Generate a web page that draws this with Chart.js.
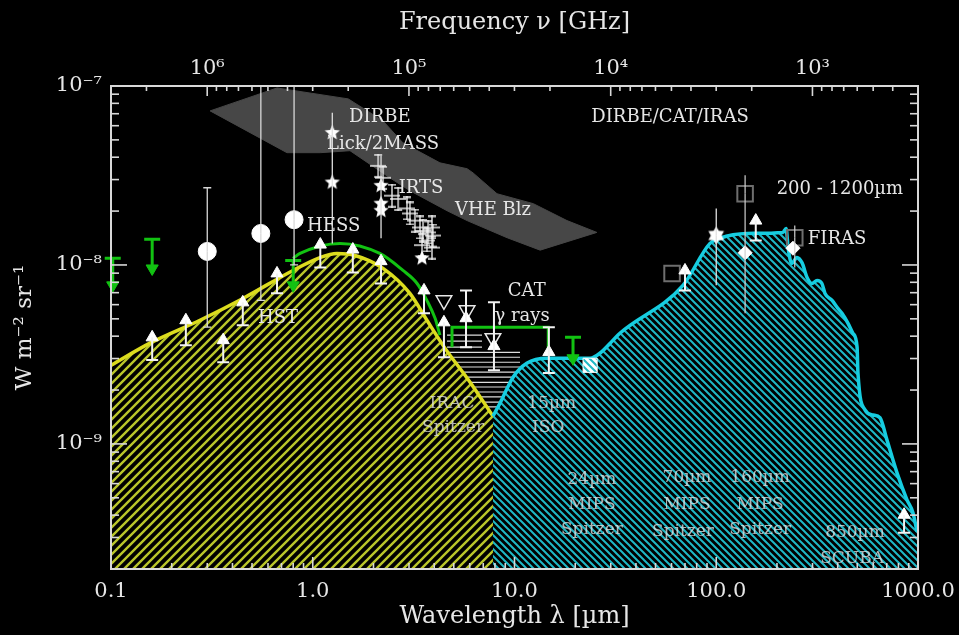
<!DOCTYPE html>
<html>
<head>
<meta charset="utf-8">
<script src="https://cdn.jsdelivr.net/npm/chart.js@4.4.1/dist/chart.umd.min.js"></script>
<style>
  html, body { margin: 0; padding: 0; background: #000; }
  canvas { display: block; }
</style>
</head>
<body>
<canvas id="sed" width="959" height="635"></canvas>
<script>
// ---- constants -------------------------------------------------------------
const C_UM_GHZ = 299792.458;            // nu[GHz] = C_UM_GHZ / lambda[um]

// ---- optical / near-IR background model (lambda in um, I in W m^-2 sr^-1) --
const cobLambda = [0.1, 0.156, 0.276, 0.451, 0.798, 1.086, 1.318, 1.62, 2.23, 3.03, 3.68, 4.52, 6.01, 7.82];
const cobFlux   = [2.75e-9, 3.66e-9, 4.91e-9, 6.50e-9, 9.32e-9, 1.10e-8, 1.16e-8, 1.13e-8, 9.57e-9, 6.94e-9, 4.91e-9, 3.43e-9, 2.22e-9, 1.43e-9];

// ---- far-IR background model --------------------------------------------------
const cibLambda = [7.82, 8.48, 9.84, 11.5, 14.5, 23.7, 26.5, 30.8, 33.3, 68.4, 93.1, 104, 142, 214, 222, 227, 237, 251, 266, 282, 298, 316, 334, 346, 375, 397, 420, 450, 476, 499, 504, 546, 598, 648, 702, 787, 882, 944, 989];
const cibFlux   = [1.43e-9, 1.69e-9, 2.36e-9, 2.82e-9, 3.01e-9, 3.01e-9, 3.21e-9, 3.80e-9, 4.15e-9, 7.69e-9, 1.32e-8, 1.41e-8, 1.50e-8, 1.52e-8, 1.60e-8, 1.25e-8, 1.02e-8, 1.10e-8, 1.03e-8, 8.52e-9, 7.88e-9, 8.20e-9, 7.88e-9, 6.93e-9, 6.34e-9, 5.80e-9, 5.37e-9, 4.72e-9, 4.15e-9, 3.47e-9, 2.49e-9, 1.55e-9, 1.45e-9, 1.40e-9, 1.05e-9, 6.89e-10, 4.87e-10, 4.13e-10, 3.24e-10];

// ---- gamma-ray derived limits (green) -----------------------------------------
const gammaLambda = [0.798, 0.865, 1.365, 2.15, 2.80, 3.29, 3.68, 4.04, 4.27];
const gammaFlux   = [1.087e-8, 1.16e-8, 1.32e-8, 1.16e-8, 9.32e-9, 7.88e-9, 6.34e-9, 5.03e-9, 4.05e-9];
const catLambda   = [4.90, 4.90, 14.7, 14.7];
const catFlux     = [3.47e-9, 4.49e-9, 4.49e-9, 3.34e-9];
const ulLambda    = [0.102, 0.16, 0.80, 19.5];
const ulHead      = [7.69e-9, 9.56e-9, 7.69e-9, 3.01e-9];
const ulBar       = [1.09e-8, 1.39e-8, 1.06e-8, 3.94e-9];

// ---- VHE blazar band (closed outline) --------------------------------------------
const blzLambda = [0.310, 0.665, 1.50, 2.23, 2.80, 4.27, 5.82, 6.23, 8.19, 12.4, 18.2, 25.6, 13.4, 9.19, 5.82, 4.63, 3.03, 2.41, 1.53, 1.09, 0.745, 0.310];
const blzFlux   = [7.26e-8, 9.75e-8, 8.47e-8, 6.38e-8, 4.81e-8, 3.72e-8, 3.45e-8, 3.27e-8, 2.50e-8, 2.20e-8, 1.77e-8, 1.52e-8, 1.21e-8, 1.42e-8, 1.77e-8, 2.01e-8, 2.60e-8, 3.07e-8, 4.35e-8, 4.24e-8, 4.24e-8, 7.26e-8];

// ---- IRAC horizontal error bars -------------------------------------------------
const iracFlux = [4.05e-9, 3.75e-9, 3.47e-9, 3.25e-9, 3.05e-9, 2.86e-9, 2.69e-9, 2.52e-9, 2.36e-9, 2.21e-9, 2.08e-9, 1.95e-9, 1.83e-9, 1.71e-9, 1.61e-9];
const iracLo   = [4.63, 4.63, 4.63, 4.63, 4.63, 4.63, 4.63, 4.63, 4.63, 4.63, 4.63, 4.63, 4.63, 4.63, 4.63];
const iracHi   = [6.90, 6.90, 6.90, 10.65, 10.65, 10.65, 10.65, 10.65, 10.65, 10.65, 10.65, 10.65, 10.65, 10.65, 10.65];

// ---- measurements ----------------------------------------------------------------
// lower limits (galaxy counts): arrow head, shaft end, optional upper cap
const limLambda = [0.16, 0.235, 0.36, 0.45, 0.665, 1.09, 1.58, 2.18, 3.56, 4.47, 5.75, 7.91, 14.8, 70, 157, 853];
const limFlux   = [3.94e-9, 4.91e-9, 3.80e-9, 6.18e-9, 8.97e-9, 1.30e-8, 1.22e-8, 1.05e-8, 7.21e-9, 4.78e-9, 5.04e-9, 3.52e-9, 3.26e-9, 9.32e-9, 1.77e-8, 4.02e-10];
const limLow    = [2.94e-9, 3.56e-9, 2.86e-9, 4.60e-9, 6.94e-9, 9.68e-9, 9.08e-9, 7.89e-9, 5.37e-9, 3.05e-9, 3.47e-9, 2.58e-9, 2.49e-9, 7.21e-9, 1.37e-8, 3.19e-10];
const limHigh   = [null, null, null, null, null, null, null, null, null, null, 7.21e-9, 6.18e-9, 4.49e-9, null, null, null];

// direct optical measurements
const dotLambda = [0.30, 0.553, 0.808];
const dotFlux   = [1.19e-8, 1.50e-8, 1.79e-8];
const dotHigh   = [2.70e-8, 1.2e-7, 1.2e-7];
const dotLow    = [4.49e-9, 6.34e-9, 1.0e-8];

// DIRBE / 2MASS near-IR detections
const starLambda = [1.25, 1.25, 2.18, 2.18, 2.18, 3.48];
const starFlux   = [5.47e-8, 2.89e-8, 2.77e-8, 2.20e-8, 2.01e-8, 1.09e-8];
const starHigh   = [7.08e-8, null, 4.07e-8, null, null, null];
const starLow    = [1.32e-8, null, 1.41e-8, null, null, null];

// DIRBE far-IR detection
const hexLambda = [100];
const hexFlux   = [1.46e-8];
const hexHigh   = [2.07e-8];
const hexLow    = [7.69e-9];

// IRTS spectrum
const irtsLambda = [2.11, 2.23, 2.47, 2.65, 2.93, 3.03, 3.21, 3.40, 3.52, 3.73, 3.90, 3.94, 3.68, 3.48, 3.90];
const irtsFlux   = [3.58e-8, 3.07e-8, 2.44e-8, 2.34e-8, 2.07e-8, 1.94e-8, 1.77e-8, 1.62e-8, 1.55e-8, 1.52e-8, 1.62e-8, 1.46e-8, 1.37e-8, 1.29e-8, 1.25e-8];

// far-IR open squares, diamonds, open triangles, 24um point
const sqLambda = [60.4, 139, 245];
const sqFlux   = [8.97e-9, 2.50e-8, 1.42e-8];
const sqHigh   = [null, 3.17e-8, 1.66e-8];
const sqLow    = [null, 5.37e-9, 9.68e-9];
const dmLambda = [139, 240];
const dmFlux   = [1.17e-8, 1.24e-8];
const triLambda = [4.47, 5.82, 7.82];
const triFlux   = [6.34e-9, 5.58e-9, 3.90e-9];
const mipsLambda = [23.7];
const mipsFlux   = [2.75e-9];

// ---- annotations ---------------------------------------------------------------------
const noteText   = ['DIRBE', 'Lick/2MASS', 'IRTS', 'VHE Blz', 'HESS', 'HST', 'DIRBE/CAT/IRAS', '200 - 1200µm', 'FIRAS', 'CAT', 'γ rays'];
const noteLambda = [2.15, 2.23, 3.44, 7.82, 1.27, 0.673, 59.0, 410, 397, 11.5, 10.9];
const noteFlux   = [6.64e-8, 4.75e-8, 2.67e-8, 2.01e-8, 1.64e-8, 5.04e-9, 6.64e-8, 2.64e-8, 1.39e-8, 7.12e-9, 5.17e-9];
const instText   = ['IRAC', 'Spitzer', '15µm', 'ISO', '24µm', 'MIPS', 'Spitzer', '70µm', 'MIPS', 'Spitzer', '160µm', 'MIPS', 'Spitzer', '850µm', 'SCUBA'];
const instLambda = [4.90, 4.96, 15.3, 14.7, 24.2, 24.2, 24.2, 71.6, 71.6, 68.4, 165, 165, 165, 487, 471];
const instFlux   = [1.69e-9, 1.23e-9, 1.69e-9, 1.23e-9, 6.30e-10, 4.57e-10, 3.32e-10, 6.47e-10, 4.57e-10, 3.24e-10, 6.47e-10, 4.57e-10, 3.32e-10, 3.19e-10, 2.29e-10];

// ---- styling helpers ---------------------------------------------------------------
const textColor = '#e6e6e6';
const axisColor = '#d8d8d8';
const green = '#12c212';
Chart.defaults.font.family = "'DejaVu Serif', serif";

const pts = (xs, ys) => xs.map((x, i) => ({ x, y: ys[i] }));

function hatch(color, bg, size, rising, width) {
  const c = document.createElement('canvas');
  c.width = c.height = size;
  const g = c.getContext('2d');
  g.fillStyle = bg; g.fillRect(0, 0, size, size);
  g.strokeStyle = color; g.lineWidth = width; g.lineCap = 'square';
  g.beginPath();
  if (rising) {
    g.moveTo(-2, size + 2); g.lineTo(size + 2, -2);
    g.moveTo(-2, 2); g.lineTo(2, -2);
    g.moveTo(size - 2, size + 2); g.lineTo(size + 2, size - 2);
  } else {
    g.moveTo(-2, -2); g.lineTo(size + 2, size + 2);
    g.moveTo(size - 2, -2); g.lineTo(size + 2, 2);
    g.moveTo(-2, size - 2); g.lineTo(2, size + 2);
  }
  g.stroke();
  return g.createPattern(c, 'repeat');
}

function starShape(points, r, inner, color) {
  const s = Math.ceil(2 * r + 2);
  const c = document.createElement('canvas');
  c.width = c.height = s;
  const g = c.getContext('2d');
  g.fillStyle = color;
  g.beginPath();
  for (let i = 0; i < points * 2; i++) {
    const rr = i % 2 ? r * inner : r;
    const a = -Math.PI / 2 + i * Math.PI / points;
    g.lineTo(s / 2 + rr * Math.cos(a), s / 2 + rr * Math.sin(a));
  }
  g.closePath(); g.fill();
  return c;
}

function plusShape(w, h) {
  const c = document.createElement('canvas');
  c.width = w; c.height = h;
  const g = c.getContext('2d');
  g.strokeStyle = 'rgba(245,245,245,0.95)'; g.lineWidth = 1.4;
  g.beginPath();
  g.moveTo(0, h / 2); g.lineTo(w, h / 2);
  g.moveTo(w / 2, 0); g.lineTo(w / 2, h);
  g.moveTo(w / 2 - 4, 1); g.lineTo(w / 2 + 4, 1);
  g.moveTo(w / 2 - 4, h - 1); g.lineTo(w / 2 + 4, h - 1);
  g.stroke();
  return c;
}

const yellowHatch = hatch('#b9c52a', '#000', 9, true, 2.4);
const cyanHatch = hatch('#1fb8c6', '#000', 7, false, 2.0);
const mipsFill = hatch('#1fb8c6', '#ffffff', 7, false, 2.0);

// ---- axis ticks ------------------------------------------------------------------
function logTicks(lo, hi) {
  const out = [];
  for (let e = Math.floor(Math.log10(lo)) - 1; e <= Math.ceil(Math.log10(hi)); e++) {
    for (let k = 1; k <= 9; k++) {
      const v = k * Math.pow(10, e);
      if (v >= lo * (1 - 1e-9) && v <= hi * (1 + 1e-9)) out.push({ value: v });
    }
  }
  return out;
}
const isDecade = v => Math.abs(Math.log10(v) - Math.round(Math.log10(v))) < 1e-6;
const SUP = { '0': '⁰', '1': '¹', '2': '²', '3': '³', '4': '⁴', '5': '⁵', '6': '⁶', '7': '⁷', '8': '⁸', '9': '⁹', '-': '⁻' };
const powLabel = v => '10' + String(Math.round(Math.log10(v))).split('').map(ch => SUP[ch]).join('');

// keep the frame fixed: axis boxes of constant size, no extra label overhang
const fixHorizontal = h => s => { s.height = h; s.paddingLeft = 0; s.paddingRight = 0; };
const fixVertical = w => s => { s.width = w; s.paddingTop = 0; s.paddingBottom = 0; };

// ---- plugins -----------------------------------------------------------------------
const errorBars = {
  id: 'errorBars',
  afterDatasetsDraw(chart) {
    const { ctx, chartArea: a } = chart;
    const yS = chart.scales.y;
    chart.data.datasets.forEach((ds, di) => {
      if (!ds.errLow && !ds.errHigh) return;
      const meta = chart.getDatasetMeta(di);
      ctx.save();
      if (ds.errClip !== false) {
        ctx.beginPath(); ctx.rect(a.left, a.top, a.right - a.left, a.bottom - a.top); ctx.clip();
      }
      ctx.strokeStyle = ds.errColor || '#f0f0f0';
      ctx.lineWidth = ds.errWidth || 1.5;
      const cap = ds.errCap || 0;
      meta.data.forEach((el, i) => {
        const ends = [ds.errLow ? ds.errLow[i] : null, ds.errHigh ? ds.errHigh[i] : null];
        ends.forEach(v => {
          if (v == null) return;
          const py = yS.getPixelForValue(v);
          ctx.beginPath();
          ctx.moveTo(el.x, el.y); ctx.lineTo(el.x, py);
          if (cap) { ctx.moveTo(el.x - cap, py); ctx.lineTo(el.x + cap, py); }
          ctx.stroke();
        });
      });
      ctx.restore();
    });
  }
};

const frameTicks = {
  id: 'frameTicks',
  afterDatasetsDraw(chart) {
    const { ctx, chartArea: a } = chart;
    ctx.save();
    ctx.strokeStyle = axisColor;
    ctx.lineWidth = 1.6;
    const sides = { x: ['bottom', 12, 6], x2: ['top', 10, 5], y: ['left', 16, 8], y2: ['right', 16, 8] };
    Object.keys(sides).forEach(id => {
      const s = chart.scales[id];
      const [side, big, small] = sides[id];
      s.ticks.forEach(t => {
        const p = s.getPixelForValue(t.value);
        const len = isDecade(t.value) ? big : small;
        ctx.beginPath();
        if (side === 'bottom') { ctx.moveTo(p, a.bottom); ctx.lineTo(p, a.bottom - len); }
        if (side === 'top') { ctx.moveTo(p, a.top); ctx.lineTo(p, a.top + len); }
        if (side === 'left') { ctx.moveTo(a.left, p); ctx.lineTo(a.left + len, p); }
        if (side === 'right') { ctx.moveTo(a.right, p); ctx.lineTo(a.right - len, p); }
        ctx.stroke();
      });
    });
    ctx.lineWidth = 2;
    ctx.strokeRect(a.left, a.top, a.right - a.left, a.bottom - a.top);
    ctx.restore();
  }
};

const notes = {
  id: 'notes',
  afterDatasetsDraw(chart) {
    const { ctx } = chart;
    const xS = chart.scales.x, yS = chart.scales.y;
    ctx.save();
    ctx.font = "18px 'DejaVu Serif', serif";
    ctx.textAlign = 'center';
    ctx.textBaseline = 'middle';
    ctx.fillStyle = textColor;
    noteText.forEach((t, i) => ctx.fillText(t, xS.getPixelForValue(noteLambda[i]), yS.getPixelForValue(noteFlux[i])));
    ctx.font = "17px 'DejaVu Serif', serif";
    ctx.fillStyle = 'rgba(225,225,225,0.78)';
    instText.forEach((t, i) => ctx.fillText(t, xS.getPixelForValue(instLambda[i]), yS.getPixelForValue(instFlux[i])));
    ctx.restore();
  }
};

// ---- datasets ----------------------------------------------------------------------
const iracSegments = [];
iracFlux.forEach((f, i) => {
  iracSegments.push({ x: iracLo[i], y: f }, { x: iracHi[i], y: f }, { x: iracHi[i], y: null });
});

const datasets = [
  { type: 'line', data: pts(blzLambda, blzFlux), fill: 'shape', backgroundColor: '#474747',
    borderColor: '#474747', borderWidth: 1, pointRadius: 0, tension: 0, order: 100 },
  { type: 'line', data: iracSegments, borderColor: '#dcdcdc', borderWidth: 1.2, pointRadius: 0,
    spanGaps: false, tension: 0, order: 95 },
  { type: 'line', data: pts(cobLambda, cobFlux), fill: 'start', backgroundColor: yellowHatch,
    borderColor: '#dcdc1e', borderWidth: 3.5, pointRadius: 0, cubicInterpolationMode: 'monotone', order: 80 },
  { type: 'line', data: pts(cibLambda, cibFlux), fill: 'start', backgroundColor: cyanHatch,
    borderColor: '#16cde0', borderWidth: 3.5, pointRadius: 0, cubicInterpolationMode: 'monotone', order: 79 },
  { type: 'line', data: pts(gammaLambda, gammaFlux), fill: false, borderColor: green, borderWidth: 3,
    pointRadius: 0, cubicInterpolationMode: 'monotone', order: 60 },
  { type: 'line', data: pts(catLambda, catFlux), fill: false, borderColor: green, borderWidth: 3,
    pointRadius: 0, tension: 0, order: 59 },
  { data: pts(ulLambda, ulHead), pointStyle: 'triangle', rotation: 180, pointRadius: 7,
    pointBackgroundColor: green, pointBorderColor: green, borderWidth: 1,
    errHigh: ulBar, errCap: 8, errWidth: 3, errColor: green, errClip: false, clip: false, order: 30 },
  { data: pts(sqLambda, sqFlux), pointStyle: 'rect', pointRadius: 11, pointBackgroundColor: 'rgba(0,0,0,0)',
    pointBorderColor: '#6e6e6e', pointBorderWidth: 2, errHigh: sqHigh, errLow: sqLow, errWidth: 1.2,
    errColor: '#cfcfcf', clip: false, order: 20 },
  { data: pts(dotLambda, dotFlux), pointStyle: 'circle', pointRadius: 9, pointBackgroundColor: '#fff',
    pointBorderColor: '#fff', errHigh: dotHigh, errLow: dotLow, errCap: 4, errWidth: 1.3,
    errColor: '#d8d8d8', clip: false, order: 15 },
  { data: pts(irtsLambda, irtsFlux), pointStyle: plusShape(16, 24), pointRadius: 8, clip: false, order: 14 },
  { data: pts(starLambda, starFlux), pointStyle: starShape(5, 8, 0.45, '#fff'), pointRadius: 8,
    errHigh: starHigh, errLow: starLow, errWidth: 1.3, errColor: '#e0e0e0', clip: false, order: 13 },
  { data: pts(hexLambda, hexFlux), pointStyle: starShape(6, 9, 0.6, '#fff'), pointRadius: 9,
    errHigh: hexHigh, errLow: hexLow, errWidth: 1.3, errColor: '#e0e0e0', clip: false, order: 12 },
  { data: pts(dmLambda, dmFlux), pointStyle: 'rectRot', pointRadius: 7, pointBackgroundColor: '#fff',
    pointBorderColor: '#fff', clip: false, order: 11 },
  { data: pts(triLambda, triFlux), pointStyle: 'triangle', rotation: 180, pointRadius: 9,
    pointBackgroundColor: 'rgba(0,0,0,0)', pointBorderColor: '#e8e8e8', pointBorderWidth: 1.5, clip: false, order: 10 },
  { data: pts(mipsLambda, mipsFlux), pointStyle: 'rect', pointRadius: 10, pointBackgroundColor: mipsFill,
    pointBorderColor: '#fff', pointBorderWidth: 1, clip: false, order: 9 },
  { data: pts(limLambda, limFlux), pointStyle: 'triangle', pointRadius: 7, pointBackgroundColor: '#fff',
    pointBorderColor: '#fff', pointBorderWidth: 1, errLow: limLow, errHigh: limHigh, errCap: 6,
    errWidth: 2, errColor: '#f2f2f2', clip: false, order: 5 }
];

// ---- chart ---------------------------------------------------------------------------
new Chart(document.getElementById('sed'), {
  type: 'scatter',
  data: { datasets },
  plugins: [errorBars, notes, frameTicks],
  options: {
    responsive: false,
    animation: false,
    events: [],
    layout: { padding: 0 },
    plugins: { legend: { display: false }, tooltip: { enabled: false } },
    scales: {
      x: {
        type: 'logarithmic', position: 'bottom', min: 0.1, max: 1000,
        afterBuildTicks: s => { s.ticks = logTicks(0.1, 1000); },
        afterFit: fixHorizontal(66),
        grid: { display: false, drawTicks: false }, border: { display: false },
        ticks: { autoSkip: false, maxRotation: 0, minRotation: 0, padding: 10, color: textColor,
                 font: { size: 21 }, callback: v => isDecade(v) ? v.toFixed(1) : '' },
        title: { display: true, text: 'Wavelength λ [µm]', color: textColor, font: { size: 24 },
                 padding: { top: 0, bottom: 4 } }
      },
      x2: {
        type: 'logarithmic', position: 'top', reverse: true,
        min: C_UM_GHZ / 1000, max: C_UM_GHZ / 0.1,
        afterBuildTicks: s => { s.ticks = logTicks(C_UM_GHZ / 1000, C_UM_GHZ / 0.1); },
        afterFit: fixHorizontal(86),
        grid: { display: false, drawTicks: false }, border: { display: false },
        ticks: { autoSkip: false, maxRotation: 0, minRotation: 0, padding: 5, color: textColor,
                 font: { size: 21 }, callback: v => isDecade(v) ? powLabel(v) : '' },
        title: { display: true, text: 'Frequency ν [GHz]', color: textColor, font: { size: 24 },
                 padding: { top: 8, bottom: 0 } }
      },
      y: {
        type: 'logarithmic', position: 'left', min: 2e-10, max: 1e-7,
        afterBuildTicks: s => { s.ticks = logTicks(2e-10, 1e-7); },
        afterFit: fixVertical(111),
        grid: { display: false, drawTicks: false }, border: { display: false },
        ticks: { autoSkip: false, padding: 9, color: textColor, font: { size: 21 },
                 callback: v => isDecade(v) ? powLabel(v) : '' },
        title: { display: true, text: 'W m⁻² sr⁻¹', color: textColor, font: { size: 23 },
                 padding: { top: 11, bottom: 0 } }
      },
      y2: {
        type: 'logarithmic', position: 'right', min: 2e-10, max: 1e-7,
        afterBuildTicks: s => { s.ticks = logTicks(2e-10, 1e-7); },
        afterFit: fixVertical(41),
        grid: { display: false, drawTicks: false }, border: { display: false },
        ticks: { display: false }
      }
    }
  }
});
</script>
</body>
</html>
